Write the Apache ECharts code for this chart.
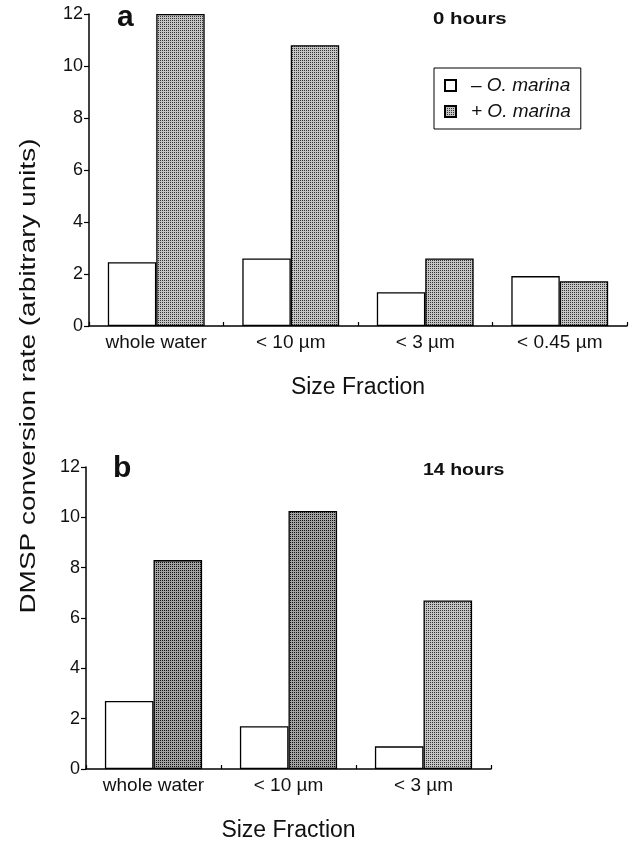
<!DOCTYPE html>
<html>
<head>
<meta charset="utf-8">
<script src="https://cdn.jsdelivr.net/npm/echarts@6/dist/echarts.min.js"></script>
<style>
  html, body { margin: 0; padding: 0; background: #fff; }
  #chart { width: 636px; height: 843px; }
</style>
</head>
<body>
<div id="chart"></div>
<script>
// panel a: 0 hours
const catsA = ["whole water", "< 10 µm", "< 3 µm", "< 0.45 µm"];
const minusA = [2.45, 2.6, 1.3, 1.92];
const plusA = [12.0, 10.8, 2.6, 1.72];
// panel b: 14 hours
const catsB = ["whole water", "< 10 µm", "< 3 µm"];
const minusB = [2.7, 1.7, 0.9];
const plusB = [8.3, 10.25, 6.7];
const yTicks = [0, 2, 4, 6, 8, 10, 12];

const FONT = "Liberation Sans, Arial, Helvetica, sans-serif";

// halftone dot fill
function makePattern(bg, dot) {
    let c = document.createElement("canvas");
    c.width = 4;
    c.height = 4;
    let ctx = c.getContext("2d");
    ctx.fillStyle = bg;
    ctx.fillRect(0, 0, 4, 4);
    ctx.fillStyle = dot;
    ctx.fillRect(0, 0, 1, 1);
    ctx.fillRect(2, 2, 1, 1);
    ctx.fillRect(2, 0, 1, 1);
    ctx.fillRect(0, 2, 1, 1);
    return { image: c, repeat: "repeat" };
}
const dots = makePattern("#c4c4c4", "#333");
const dotsDark = makePattern("#a2a2a2", "#111");

function yAxis(gridIndex) {
    return {
        type: "value",
        gridIndex: gridIndex,
        min: 0,
        max: 12,
        interval: 2,
        axisLine: { show: true, lineStyle: { color: "#000", width: 1.5 } },
        axisTick: { show: true, length: 5, lineStyle: { color: "#000", width: 1.2 } },
        axisLabel: {
            color: "#111",
            fontFamily: FONT,
            fontSize: 18,
            margin: 6,
            formatter: v => (yTicks.indexOf(v) >= 0 ? String(v) : "")
        },
        splitLine: { show: false }
    };
}

function xAxis(gridIndex, cats, nameGap) {
    return {
        type: "category",
        gridIndex: gridIndex,
        data: cats,
        name: "Size Fraction",
        nameLocation: "middle",
        nameGap: nameGap,
        nameTextStyle: { color: "#111", fontFamily: FONT, fontSize: 23 },
        axisLine: { show: true, lineStyle: { color: "#000", width: 1.5 } },
        axisTick: { show: true, inside: true, length: 4, lineStyle: { color: "#000", width: 1.2 } },
        axisLabel: { color: "#111", fontFamily: FONT, fontSize: 19, margin: 7 },
        splitLine: { show: false }
    };
}

const barBorder = { borderColor: "#000", borderWidth: 1.3 };

let option = {
    backgroundColor: "#fff",
    animation: false,
    grid: [
        { left: 89, top: 14, width: 538, height: 312 },
        { left: 86, top: 467, width: 405, height: 307 }
    ],
    xAxis: [xAxis(0, catsA, 50), xAxis(1, catsB, 50)],
    yAxis: [yAxis(0), yAxis(1)],
    legend: {
        orient: "vertical",
        left: 434,
        top: 68,
        padding: [8, 10, 8, 10],
        itemGap: 7,
        itemWidth: 11,
        itemHeight: 11,
        icon: "rect",
        borderColor: "#000",
        borderWidth: 1,
        borderRadius: 0,
        data: ["– O. marina", "+ O. marina"],
        textStyle: {
            color: "#111",
            fontFamily: FONT,
            fontSize: 19,
            fontStyle: "italic",
            padding: [0, 0, 0, 10]
        }
    },
    series: [
        {
            name: "– O. marina",
            type: "bar",
            xAxisIndex: 0,
            yAxisIndex: 0,
            data: minusA,
            barWidth: "36%",
            barGap: "0%",
            itemStyle: Object.assign({ color: "#fff" }, barBorder)
        },
        {
            name: "+ O. marina",
            type: "bar",
            xAxisIndex: 0,
            yAxisIndex: 0,
            data: plusA,
            barWidth: "36%",
            barGap: "0%",
            itemStyle: Object.assign({ color: dots }, barBorder)
        },
        {
            name: "– O. marina",
            type: "bar",
            xAxisIndex: 1,
            yAxisIndex: 1,
            data: minusB,
            barWidth: "36%",
            barGap: "0%",
            itemStyle: Object.assign({ color: "#fff" }, barBorder)
        },
        {
            name: "+ O. marina",
            type: "bar",
            xAxisIndex: 1,
            yAxisIndex: 1,
            data: plusB.map((v, i) => ({
                value: v,
                itemStyle: { color: i < 2 ? dotsDark : dots }
            })),
            barWidth: "36%",
            barGap: "0%",
            itemStyle: Object.assign({ color: dots }, barBorder)
        }
    ],
    graphic: [
        {
            type: "text",
            x: 117,
            y: 3,
            style: { text: "a", fontFamily: FONT, fontSize: 30, fontWeight: "bold", fill: "#111" }
        },
        {
            type: "text",
            x: 433,
            y: 11,
            scaleX: 1.2,
            style: { text: "0 hours", fontFamily: FONT, fontSize: 17, fontWeight: "bold", fill: "#111" }
        },
        {
            type: "text",
            x: 113,
            y: 454,
            style: { text: "b", fontFamily: FONT, fontSize: 30, fontWeight: "bold", fill: "#111" }
        },
        {
            type: "text",
            x: 423,
            y: 462,
            scaleX: 1.15,
            style: { text: "14 hours", fontFamily: FONT, fontSize: 17, fontWeight: "bold", fill: "#111" }
        },
        {
            type: "text",
            x: 29,
            y: 376,
            rotation: Math.PI / 2,
            scaleX: 1.27,
            style: {
                text: "DMSP conversion rate (arbitrary units)",
                fontFamily: FONT,
                fontSize: 22,
                fill: "#111",
                align: "center",
                verticalAlign: "middle"
            }
        }
    ]
};

let myChart = echarts.init(document.getElementById("chart"));
myChart.setOption(option);
</script>
</body>
</html>
